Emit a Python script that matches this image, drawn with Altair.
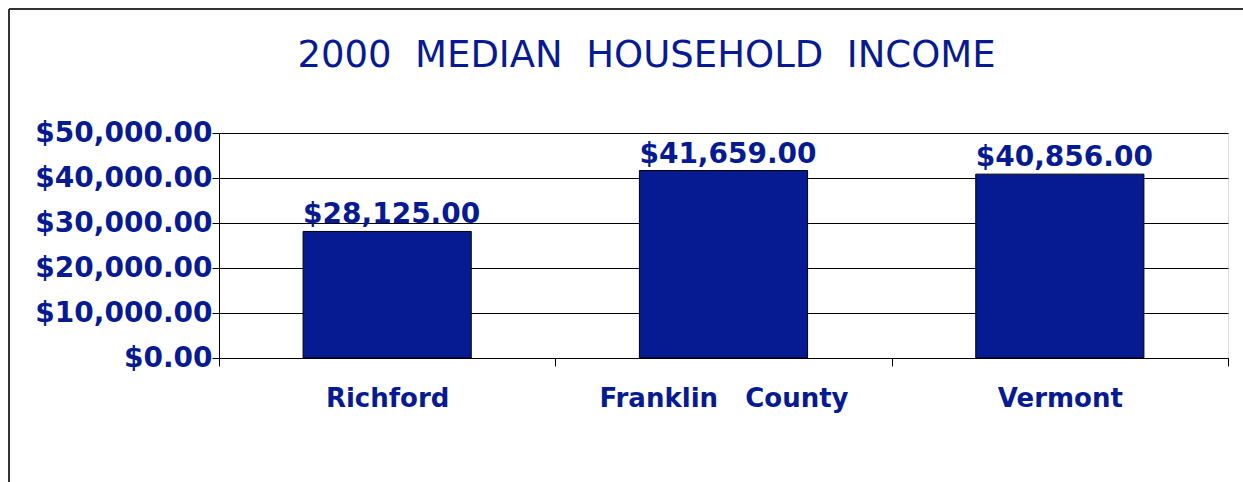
import altair as alt
import pandas as pd

places = ["Richford", "Franklin\u00a0\u00a0\u00a0County", "Vermont"]
incomes = [28125, 41659, 40856]
y_ticks = [0, 10000, 20000, 30000, 40000, 50000]

NAVY = "#061A92"
FONT = "DejaVu Sans"

df = pd.DataFrame({"place": places, "income": incomes})

x_enc = alt.X(
    "place:N",
    sort=places,
    title=None,
    scale=alt.Scale(paddingInner=0, paddingOuter=0),
    axis=alt.Axis(
        labelAngle=0,
        labelFont=FONT,
        labelFontSize=26,
        labelFontWeight="bold",
        labelColor=NAVY,
        labelPadding=19,
        labelLimit=0,
        tickBand="extent",
        tickSize=8,
        tickColor="#000000",
        domainColor="#000000",
        grid=False,
    ),
)

y_enc = alt.Y(
    "income:Q",
    title=None,
    scale=alt.Scale(domain=[0, 50000], nice=False),
    axis=alt.Axis(
        values=y_ticks,
        format="$,.2f",
        labelFont=FONT,
        labelFontSize=28,
        labelFontWeight="bold",
        labelColor=NAVY,
        labelPadding=0,
        tickSize=7,
        tickColor="#000000",
        domainColor="#000000",
        gridColor="#000000",
        gridOpacity=1,
        gridWidth=1,
    ),
)

bars = alt.Chart(df).mark_bar(
    color=NAVY, stroke="#000000", strokeWidth=1, width=alt.RelativeBandSize(0.5)
).encode(x=x_enc, y=y_enc)

labels = alt.Chart(df).mark_text(
    align="left",
    baseline="alphabetic",
    dy=-8,
    font=FONT,
    fontSize=28,
    fontWeight="bold",
    color=NAVY,
).encode(
    x=alt.X("place:N", sort=places, bandPosition=0.25),
    y="income:Q",
    text=alt.Text("income:Q", format="$,.2f"),
)

frame_data = alt.Data(values=[{"k": 1}])
left_border = alt.Chart(frame_data).mark_rule(color="#333333", strokeWidth=2).encode(
    x=alt.value(-210), y=alt.value(-124), y2=alt.value(360)
)
top_border = alt.Chart(frame_data).mark_rule(color="#333333", strokeWidth=2).encode(
    x=alt.value(-210), x2=alt.value(1030), y=alt.value(-124)
)

chart = (
    alt.layer(bars, labels, left_border, top_border)
    .properties(
        width=1009,
        height=225,
        autosize=alt.AutoSizeParams(type="none"),
        padding={"left": 219, "top": 133, "right": 15, "bottom": 124},
        title=alt.TitleParams(
            text="2000\u00a0\u00a0MEDIAN\u00a0\u00a0HOUSEHOLD\u00a0\u00a0INCOME",
            font=FONT,
            fontSize=37,
            fontWeight="normal",
            color=NAVY,
            anchor="middle",
            frame="group",
            baseline="alphabetic",
            dx=-77,
            dy=96,
            offset=0,
        ),
    )
    .configure_view(stroke=None)
    .configure(background="white")
)

chart.save("out.html", embed_options={"renderer": "svg", "actions": False})
